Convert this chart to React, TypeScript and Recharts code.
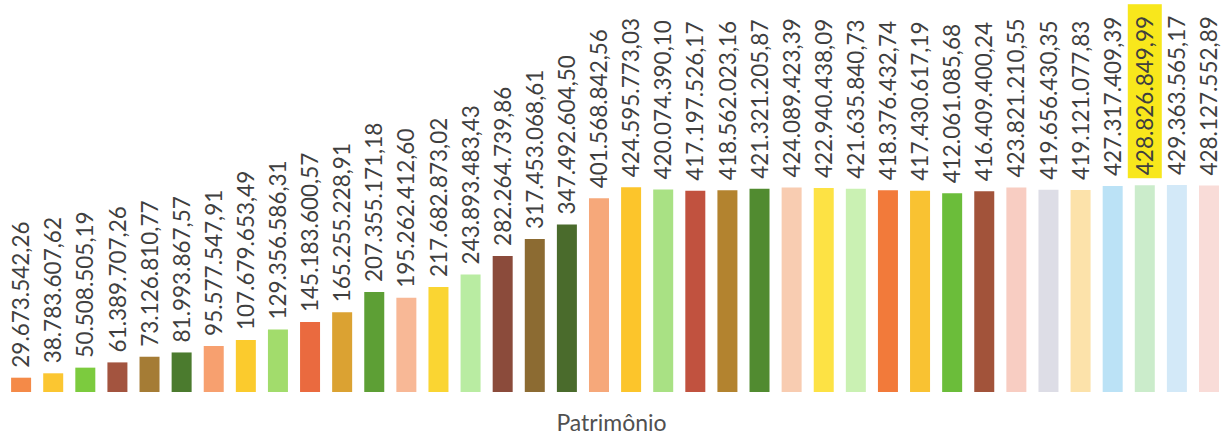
import React from 'react';
import { BarChart, Bar, XAxis, YAxis, Cell, LabelList } from 'recharts';

// Patrimônio, values in R$ (one bar per period)
const labels: string[] = [
  '29.673.542,26', '38.783.607,62', '50.508.505,19', '61.389.707,26', '73.126.810,77',
  '81.993.867,57', '95.577.547,91', '107.679.653,49', '129.356.586,31', '145.183.600,57',
  '165.255.228,91', '207.355.171,18', '195.262.412,60', '217.682.873,02', '243.893.483,43',
  '282.264.739,86', '317.453.068,61', '347.492.604,50', '401.568.842,56', '424.595.773,03',
  '420.074.390,10', '417.197.526,17', '418.562.023,16', '421.321.205,87', '424.089.423,39',
  '422.940.438,09', '421.635.840,73', '418.376.432,74', '417.430.617,19', '412.061.085,68',
  '416.409.400,24', '423.821.210,55', '419.656.430,35', '419.121.077,83', '427.317.409,39',
  '428.826.849,99', '429.363.565,17', '428.127.552,89',
];

const values: number[] = [
  29673542.26, 38783607.62, 50508505.19, 61389707.26, 73126810.77,
  81993867.57, 95577547.91, 107679653.49, 129356586.31, 145183600.57,
  165255228.91, 207355171.18, 195262412.6, 217682873.02, 243893483.43,
  282264739.86, 317453068.61, 347492604.5, 401568842.56, 424595773.03,
  420074390.1, 417197526.17, 418562023.16, 421321205.87, 424089423.39,
  422940438.09, 421635840.73, 418376432.74, 417430617.19, 412061085.68,
  416409400.24, 423821210.55, 419656430.35, 419121077.83, 427317409.39,
  428826849.99, 429363565.17, 428127552.89,
];

const colors: string[] = [
  '#f48a48', '#fbc631', '#7ccb3e', '#a3543f', '#a57c35',
  '#4b7b2e', '#f7a06f', '#fbcb2d', '#a2dc6c', '#ea6a3f',
  '#dba232', '#5d9f35', '#f8b896', '#fad532', '#b9eca2',
  '#8b4b3b', '#8c6b32', '#4a6b2c', '#f6a87a', '#fcc52b',
  '#a9e184', '#c1523f', '#b3832f', '#518b30', '#f8ccb1',
  '#fde244', '#caf1b3', '#f27a3a', '#f9c232', '#6bbd3a',
  '#a2533a', '#f8cdc2', '#dddde6', '#fce2aa', '#bbe2f6',
  '#cbeccb', '#d3e9f8', '#f9dcd8',
];

const highlightIndex = 35;

const data = values.map((v, i) => ({ name: String(i + 1), value: v, label: labels[i] }));

const FONT = 'Lato, "Open Sans", sans-serif';

const renderLabel = (props: any) => {
  const { x, y, width, index } = props;
  const cx = x + width / 2;
  const ty = y - 10;
  return (
    <g transform={`translate(${cx},${ty}) rotate(-90)`}>
      {index === highlightIndex && (
        <rect x={-3} y={-17} width={174} height={34} fill="#f8e71c" />
      )}
      <text x={0} y={0} dy="0.36em" textAnchor="start" fontFamily={FONT} fontSize={22.5} fill="#3f3f3f">
        {labels[index]}
      </text>
    </g>
  );
};

export default function App() {
  return (
    <div style={{ position: 'absolute', left: 0, top: 0, width: 1223, height: 436, background: '#fff' }}>
      <BarChart
        width={1223}
        height={436}
        data={data}
        margin={{ top: 175, right: -2, bottom: 44, left: 5 }}
        barCategoryGap="19%"
      >
        <XAxis dataKey="name" hide />
        <YAxis hide domain={[0, 450000000]} />
        <Bar dataKey="value" isAnimationActive={false}>
          {data.map((d, i) => (
            <Cell key={d.name} fill={colors[i]} />
          ))}
          <LabelList dataKey="label" content={renderLabel} />
        </Bar>
      </BarChart>
      <div
        style={{
          position: 'absolute',
          left: 0,
          width: 1223,
          top: 408,
          textAlign: 'center',
          fontFamily: FONT,
          fontSize: 23,
          color: '#505050',
        }}
      >
        Patrimônio
      </div>
    </div>
  );
}
